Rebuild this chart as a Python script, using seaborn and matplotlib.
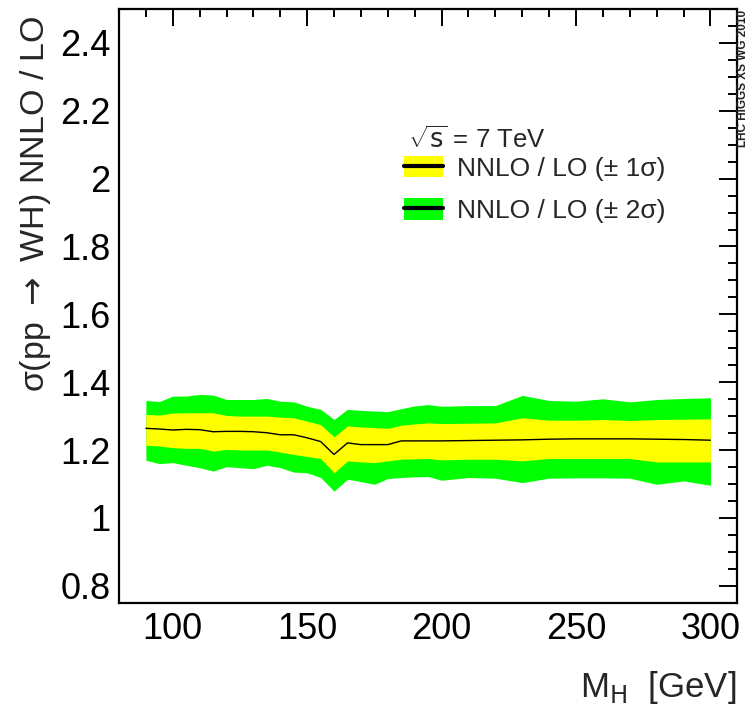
import matplotlib
matplotlib.use('Agg')
import matplotlib.pyplot as plt
from matplotlib.lines import Line2D
from matplotlib.patches import Patch
from matplotlib.ticker import MultipleLocator
import numpy as np
import pandas as pd
import seaborn as sns

# Higgs mass points [GeV]
mass = [90, 95, 100, 105, 110, 115, 120, 125, 130, 135, 140, 145, 150, 155,
        160, 165, 170, 175, 180, 185, 190, 195, 200, 210, 220, 230, 240, 250,
        260, 270, 280, 290, 300]

# NNLO / LO ratio, central value
ratio = [1.264, 1.262, 1.259, 1.261, 1.260, 1.254, 1.255, 1.255, 1.254, 1.251,
         1.245, 1.245, 1.236, 1.225, 1.187, 1.221, 1.216, 1.216, 1.216, 1.227,
         1.227, 1.227, 1.227, 1.228, 1.229, 1.230, 1.232, 1.233, 1.233, 1.233,
         1.232, 1.231, 1.229]

# +-1 sigma band
up_1s = [1.305, 1.303, 1.309, 1.310, 1.310, 1.310, 1.302, 1.300, 1.300, 1.300,
         1.297, 1.295, 1.285, 1.275, 1.239, 1.271, 1.268, 1.266, 1.264, 1.273,
         1.277, 1.280, 1.278, 1.279, 1.280, 1.295, 1.288, 1.288, 1.290, 1.287,
         1.290, 1.291, 1.292]
dn_1s = [1.214, 1.212, 1.207, 1.205, 1.205, 1.197, 1.202, 1.200, 1.200, 1.200,
         1.194, 1.187, 1.181, 1.175, 1.133, 1.168, 1.165, 1.163, 1.168, 1.173,
         1.174, 1.175, 1.171, 1.173, 1.173, 1.168, 1.175, 1.175, 1.175, 1.175,
         1.165, 1.165, 1.165]

# +-2 sigma band
up_2s = [1.346, 1.343, 1.359, 1.359, 1.364, 1.362, 1.349, 1.349, 1.349, 1.352,
         1.344, 1.342, 1.329, 1.320, 1.290, 1.320, 1.317, 1.315, 1.313, 1.322,
         1.330, 1.334, 1.329, 1.331, 1.331, 1.361, 1.346, 1.344, 1.351, 1.342,
         1.349, 1.352, 1.354]
dn_2s = [1.170, 1.160, 1.163, 1.155, 1.148, 1.138, 1.151, 1.148, 1.145, 1.155,
         1.148, 1.135, 1.133, 1.119, 1.079, 1.114, 1.107, 1.099, 1.116, 1.119,
         1.121, 1.122, 1.111, 1.119, 1.117, 1.104, 1.117, 1.118, 1.118, 1.117,
         1.099, 1.109, 1.096]

YELLOW = '#ffff00'
GREEN = '#00ff00'

df = pd.DataFrame({'mass': mass, 'ratio': ratio,
                   'up_1s': up_1s, 'dn_1s': dn_1s,
                   'up_2s': up_2s, 'dn_2s': dn_2s})

sns.set_theme(style='white')
FONTS = ['Liberation Sans Narrow', 'Liberation Sans', 'DejaVu Sans']
plt.rcParams['font.family'] = FONTS
plt.rcParams['mathtext.fontset'] = 'custom'
plt.rcParams['mathtext.rm'] = 'Liberation Sans Narrow'
plt.rcParams['mathtext.it'] = 'Liberation Sans Narrow:italic'

fig = plt.figure(figsize=(7.48, 7.07), dpi=100)
ax = fig.add_axes([0.1591, 0.1475, 0.8266, 0.8398])

ax.fill_between(df['mass'], df['dn_2s'], df['up_2s'], color=GREEN, lw=0)
ax.fill_between(df['mass'], df['dn_1s'], df['up_1s'], color=YELLOW, lw=0)
sns.lineplot(data=df, x='mass', y='ratio', ax=ax, color='black', lw=1.0)

ax.set_xlim(80, 310)
ax.set_ylim(0.75, 2.5)
ax.xaxis.set_major_locator(MultipleLocator(50))
ax.xaxis.set_minor_locator(MultipleLocator(10))
ax.yaxis.set_major_locator(MultipleLocator(0.2))
ax.yaxis.set_minor_locator(MultipleLocator(0.05))
ax.yaxis.set_major_formatter(plt.FuncFormatter(lambda v, p: f'{v:g}'))

ax.tick_params(which='both', direction='in', top=True, right=True,
               colors='black', labelsize=26, width=1.4)
ax.tick_params(axis='y', which='major', length=13, pad=6)
ax.tick_params(axis='y', which='minor', length=6.5)
ax.tick_params(axis='x', which='major', length=12, pad=7)
ax.tick_params(axis='x', which='minor', length=6)
for sp in ax.spines.values():
    sp.set_color('black')
    sp.set_linewidth(1.6)

ax.set_xlabel('')
ax.set_ylabel('')
fig.text(0.047, 0.979, r'σ(pp $\rightarrow$ WH) NNLO / LO', rotation=90,
         ha='center', va='top', fontsize=24.5)
fig.text(0.985, 0.0141, r'M$_\mathrm{H}$  [GeV]', ha='right',
         va='baseline', fontsize=25)

fig.text(0.545, 0.802, r'$\sqrt{\mathrm{s}}$ = 7 TeV', ha='left',
         va='center', fontsize=18.5)

handles = [(Patch(facecolor=YELLOW, lw=0), Line2D([], [], color='black', lw=3)),
           (Patch(facecolor=GREEN, lw=0), Line2D([], [], color='black', lw=3))]
labels = ['NNLO / LO (± 1σ)', 'NNLO / LO (± 2σ)']
ax.legend(handles, labels, loc='center left', bbox_to_anchor=(0.540, 0.732),
          bbox_transform=fig.transFigure, frameon=False, fontsize=19,
          handlelength=1.48, handleheight=0.87, handletextpad=0.53,
          labelspacing=0.68, borderpad=0, borderaxespad=0)

fig.text(0.9935, 0.986, 'LHC HIGGS XS WG 2010', rotation=90, ha='center',
         va='top', fontsize=8.5, fontweight='bold', family='Liberation Sans')

fig.savefig('out.png', dpi=100)
